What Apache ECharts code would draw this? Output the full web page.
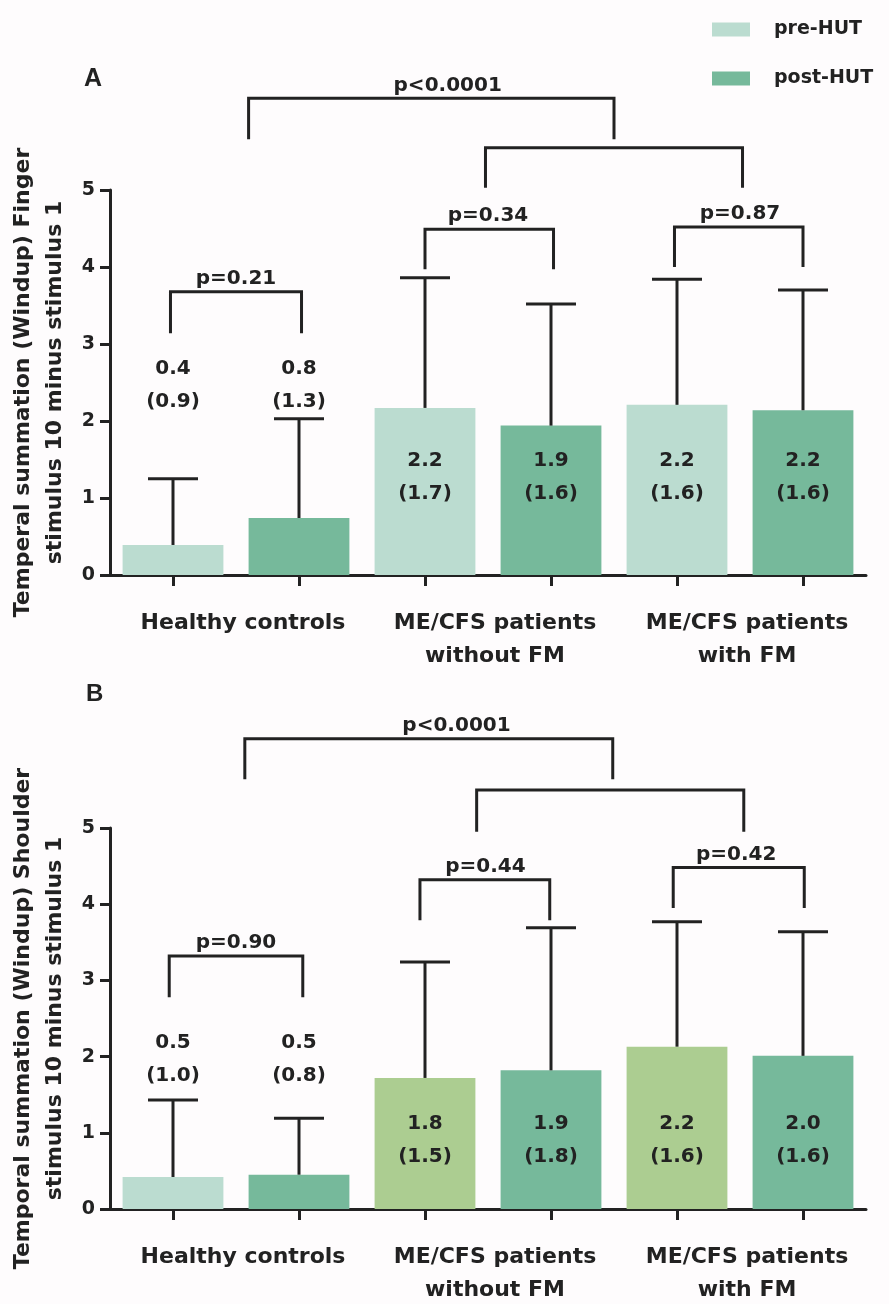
<!DOCTYPE html>
<html>
<head>
<meta charset="utf-8">
<script src="https://cdn.jsdelivr.net/npm/echarts@6/dist/echarts.min.js"></script>
<style>
html,body{margin:0;padding:0;background:#fefcfd;}
#chart{width:889px;height:1304px;}
</style>
</head>
<body>
<div id="chart"></div>
<script>
// ---------------- DATA ----------------
const barCategories = ['HC pre', 'HC post', 'noFM pre', 'noFM post', 'FM pre', 'FM post'];
const groupLabels = ['Healthy controls', 'ME/CFS patients\nwithout FM', 'ME/CFS patients\nwith FM'];
const seriesNames = ['pre-HUT', 'post-HUT'];

// Panel A (Finger)
const preA  = [0.39, '-', 2.17, '-', 2.21, '-'];
const postA = ['-', 0.74, '-', 1.94, '-', 2.14];
const upperA = [1.25, 2.03, 3.86, 3.52, 3.84, 3.70];
const meanTextA = ['0.4', '0.8', '2.2', '1.9', '2.2', '2.2'];
const sdTextA   = ['(0.9)', '(1.3)', '(1.7)', '(1.6)', '(1.6)', '(1.6)'];
const pTextA = ['p<0.0001', '', 'p=0.21', 'p=0.34', 'p=0.87'];

// Panel B (Shoulder)
const preB  = [0.42, '-', 1.72, '-', 2.13, '-'];
const postB = ['-', 0.45, '-', 1.82, '-', 2.01];
const upperB = [1.43, 1.19, 3.24, 3.69, 3.77, 3.64];
const meanTextB = ['0.5', '0.5', '1.8', '1.9', '2.2', '2.0'];
const sdTextB   = ['(1.0)', '(0.8)', '(1.5)', '(1.8)', '(1.6)', '(1.6)'];
const pTextB = ['p<0.0001', '', 'p=0.90', 'p=0.44', 'p=0.42'];

// ---------------- LAYOUT (annotation placement) ----------------
// brackets: x1,x2 in category-index units, top/leg in y units, lx = label centre
const bracketsA = [
  {x1: 0.6,  x2: 3.5,  top: 6.19, leg: 5.66, lx: 2.18},
  {x1: 2.48, x2: 4.52, top: 5.55, leg: 5.03, lx: 3.5},
  {x1: -0.02,x2: 1.02, top: 3.68, leg: 3.14, lx: 0.5},
  {x1: 2.0,  x2: 3.02, top: 4.49, leg: 3.97, lx: 2.5},
  {x1: 3.98, x2: 5.0,  top: 4.52, leg: 4.0,  lx: 4.5}
];
const bracketsB = [
  {x1: 0.57, x2: 3.49, top: 6.17, leg: 5.64, lx: 2.25},
  {x1: 2.41, x2: 4.53, top: 5.50, leg: 4.95, lx: 3.5},
  {x1: -0.03,x2: 1.03, top: 3.32, leg: 2.78, lx: 0.5},
  {x1: 1.96, x2: 2.99, top: 4.32, leg: 3.79, lx: 2.48},
  {x1: 3.97, x2: 5.01, top: 4.48, leg: 3.95, lx: 4.47}
];
const labelYA = [2.47, 2.47, 1.27, 1.27, 1.27, 1.27];
const labelYB = [1.96, 1.96, 0.90, 0.90, 0.90, 0.90];

const C_PRE = '#bbdcd0', C_POST = '#76b99b', C_PRE_B_ME = '#accd91';
const INK = '#222222';
const FONT = 'DejaVu Sans';

// ---------------- HELPERS ----------------
function bandX(api, v, y) {
  const c0 = api.coord([0, y])[0];
  const band = api.size([1, 0])[0];
  return c0 + v * band;
}
function errorSeries(xi, yi, mean, upper) {
  return {
    type: 'custom', xAxisIndex: xi, yAxisIndex: yi, z: 3, silent: true,
    data: upper.map((u, i) => [i, (typeof mean[i] === 'number' ? mean[i] : 0), u]),
    renderItem: function (params, api) {
      const b = api.coord([api.value(0), api.value(1)]);
      const t = api.coord([api.value(0), api.value(2)]);
      const st = {stroke: INK, lineWidth: 3};
      return {type: 'group', children: [
        {type: 'line', shape: {x1: b[0], y1: b[1], x2: t[0], y2: t[1]}, style: st},
        {type: 'line', shape: {x1: t[0] - 25, y1: t[1], x2: t[0] + 25, y2: t[1]}, style: st}
      ]};
    }
  };
}
function textSeries(xi, yi, ys, means, sds) {
  return {
    type: 'custom', xAxisIndex: xi, yAxisIndex: yi, z: 5, silent: true,
    data: ys.map((y, i) => [i, y]),
    renderItem: function (params, api) {
      const p = api.coord([api.value(0), api.value(1)]);
      const i = params.dataIndex;
      return {type: 'text', style: {
        text: means[i] + '\n' + sds[i], x: p[0], y: p[1],
        align: 'center', verticalAlign: 'middle', lineHeight: 33,
        font: 'bold 20px "' + FONT + '"', fill: INK
      }};
    }
  };
}
function bracketSeries(xi, yi, brs, texts) {
  return {
    type: 'custom', xAxisIndex: xi, yAxisIndex: yi, z: 5, silent: true, clip: false,
    data: brs.map(b => [0, b.top]),
    renderItem: function (params, api) {
      const b = brs[params.dataIndex];
      const yT = api.coord([0, b.top])[1];
      const yL = api.coord([0, b.leg])[1];
      const xa = bandX(api, b.x1, b.top), xb = bandX(api, b.x2, b.top);
      const st = {stroke: INK, lineWidth: 3, fill: null};
      const ch = [{type: 'polyline', shape: {points: [[xa, yL], [xa, yT], [xb, yT], [xb, yL]]}, style: st}];
      const t = texts[params.dataIndex];
      if (t) ch.push({type: 'text', style: {
        text: t, x: bandX(api, b.lx, b.top), y: yT - 13,
        align: 'center', verticalAlign: 'middle',
        font: 'bold 20px "' + FONT + '"', fill: INK
      }});
      return {type: 'group', children: ch};
    }
  };
}
function yAxisCfg(gi, name) {
  return {
    type: 'value', gridIndex: gi, min: 0, max: 5, interval: 1,
    name: name, nameLocation: 'middle', nameRotate: 90, nameGap: 37,
    nameTextStyle: {fontFamily: FONT, fontWeight: 'bold', fontSize: 22, color: INK, lineHeight: 32},
    axisLine: {show: true, lineStyle: {color: INK, width: 3}},
    axisTick: {show: true, length: 10, lineStyle: {color: INK, width: 3}},
    axisLabel: {margin: 15, fontFamily: FONT, fontWeight: 'bold', fontSize: 19, color: INK},
    splitLine: {show: false}
  };
}
function xBarAxis(gi) {
  return {
    type: 'category', gridIndex: gi, data: barCategories, position: 'bottom',
    axisLine: {show: true, onZero: false, lineStyle: {color: INK, width: 3}},
    axisTick: {show: true, alignWithLabel: true, interval: 0, length: 11, lineStyle: {color: INK, width: 3}},
    axisLabel: {show: false}
  };
}
function xLabelAxis(gi) {
  return {
    type: 'category', gridIndex: gi, data: groupLabels, position: 'bottom',
    axisLine: {show: false}, axisTick: {show: false},
    axisLabel: {interval: 0, margin: 32, padding: [0, 0, 0, 14], fontFamily: FONT, fontWeight: 'bold', fontSize: 22, lineHeight: 33, color: INK}
  };
}
function bar(xi, yi, name, data, color, overrides) {
  return {
    type: 'bar', name: name, xAxisIndex: xi, yAxisIndex: yi,
    barGap: '-100%', barCategoryGap: '20%', z: 2,
    itemStyle: {color: color},
    data: data.map((v, i) => (overrides && overrides[i] && v !== '-') ? {value: v, itemStyle: {color: overrides[i]}} : v)
  };
}

// ---------------- CHART ----------------
const chart = echarts.init(document.getElementById('chart'));
chart.setOption({
  backgroundColor: '#fefcfd',
  animation: false,
  title: [
    {text: 'A', left: 79, top: 62, textStyle: {fontFamily: 'Liberation Sans', fontWeight: 'bold', fontSize: 25, color: INK}},
    {text: 'B', left: 81, top: 677, textStyle: {fontFamily: 'Liberation Sans', fontWeight: 'bold', fontSize: 24, color: INK}}
  ],
  legend: {
    data: seriesNames, orient: 'vertical', left: 707, top: 15,
    itemWidth: 38, itemHeight: 14, itemGap: 30, icon: 'rect',
    textStyle: {fontFamily: FONT, fontWeight: 'bold', fontSize: 19, color: INK, lineHeight: 14, padding: [0, 0, 0, 19]}
  },
  grid: [
    {left: 110, top: 190, width: 756, height: 385, outerBoundsMode: 'none', containLabel: false},
    {left: 110, top: 828, width: 756, height: 381, outerBoundsMode: 'none', containLabel: false}
  ],
  xAxis: [xBarAxis(0), xLabelAxis(0), xBarAxis(1), xLabelAxis(1)],
  yAxis: [
    yAxisCfg(0, 'Temperal summation (Windup) Finger\nstimulus 10 minus stimulus 1'),
    yAxisCfg(1, 'Temporal summation (Windup) Shoulder\nstimulus 10 minus stimulus 1')
  ],
  series: [
    bar(0, 0, seriesNames[0], preA, C_PRE),
    bar(0, 0, seriesNames[1], postA, C_POST),
    errorSeries(0, 0, preA.map((v, i) => v === '-' ? postA[i] : v), upperA),
    textSeries(0, 0, labelYA, meanTextA, sdTextA),
    bracketSeries(0, 0, bracketsA, pTextA),
    bar(2, 1, seriesNames[0], preB, C_PRE, {2: C_PRE_B_ME, 4: C_PRE_B_ME}),
    bar(2, 1, seriesNames[1], postB, C_POST),
    errorSeries(2, 1, preB.map((v, i) => v === '-' ? postB[i] : v), upperB),
    textSeries(2, 1, labelYB, meanTextB, sdTextB),
    bracketSeries(2, 1, bracketsB, pTextB)
  ]
});
</script>
</body>
</html>
